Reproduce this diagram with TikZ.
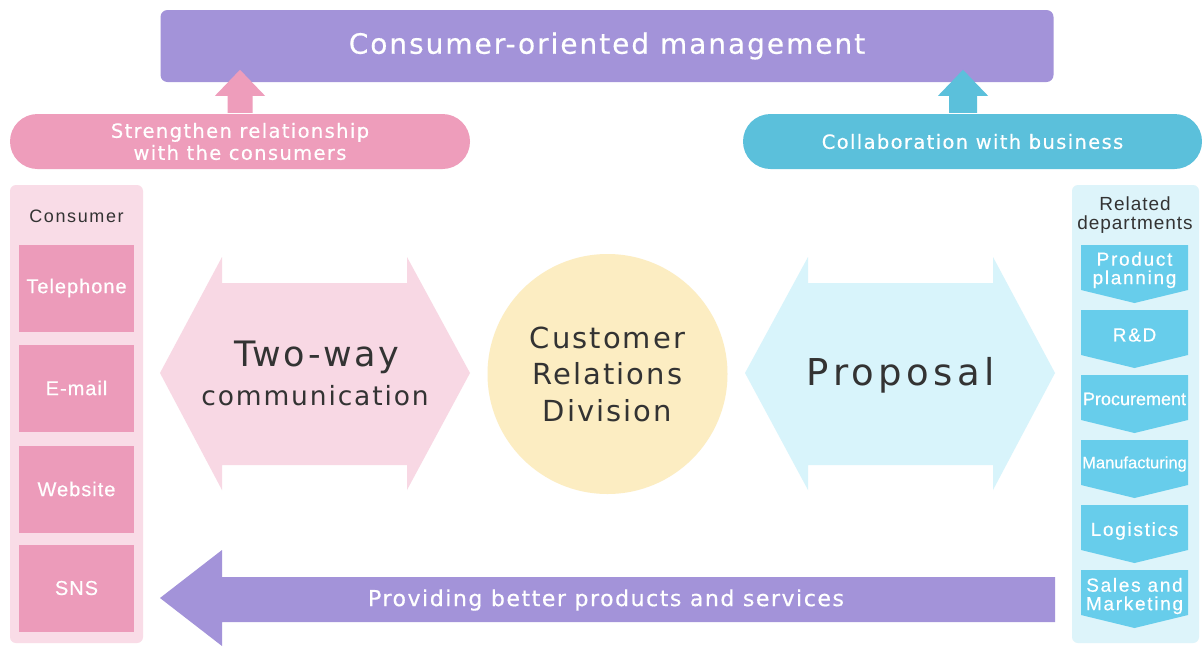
\documentclass[tikz,border=0pt]{standalone}
\usepackage{fontspec}
\setmainfont{DejaVu Sans}[LetterSpace=7]
\newfontfamily\dvb{DejaVu Sans}[LetterSpace=7,FakeBold=0.5]
\newfontfamily\dvwide{DejaVu Sans}[LetterSpace=12]
\newfontfamily\ls{Liberation Sans}[LetterSpace=5]
\newfontfamily\lsb{Liberation Sans}[LetterSpace=5,FakeBold=0.5]
\newfontfamily\lswb{Liberation Sans}[LetterSpace=9,FakeBold=0.5]
\newfontfamily\lsw{Liberation Sans}[LetterSpace=9]
\newfontfamily\lstb{Liberation Sans}[LetterSpace=0,FakeBold=0.5]
\usetikzlibrary{shapes.misc}
\definecolor{lav}{HTML}{A393D9}
\definecolor{pinkm}{HTML}{EE9DBB}
\definecolor{pinkbox}{HTML}{EC9BBA}
\definecolor{pinkl}{HTML}{F9DCE7}
\definecolor{pinkarrow}{HTML}{F8D8E4}
\definecolor{bluem}{HTML}{5BC0DB}
\definecolor{bluech}{HTML}{67CDEB}
\definecolor{bluel}{HTML}{DDF4FA}
\definecolor{bluearrow}{HTML}{D8F4FB}
\definecolor{cream}{HTML}{FCEDC2}
\definecolor{ink}{HTML}{333333}
\begin{document}
\begin{tikzpicture}[x=1pt,y=-1pt,
  plain/.style={inner sep=0pt, align=center},
  chanbox/.style={plain, fill=pinkbox, minimum width=115pt, minimum height=87pt, text=white, font=\lsb\fontsize{20}{22}\selectfont},
  chevlabel/.style={plain, text=white, font=\lswb\fontsize{19}{18.5}\selectfont},
  chev/.style={fill=bluech}
]
\useasboundingbox (0,0) rectangle (1202,646);
\fill[white] (0,0) rectangle (1202,646);

% top banner
\node[plain, fill=lav, rounded corners=7pt, minimum width=893pt, minimum height=72pt,
      text=white, font=\dvb\fontsize{28}{30}\selectfont] (mgmt) at (607,46) {Consumer-oriented management};

% pills
\node[rounded rectangle, fill=pinkm, minimum width=460pt, minimum height=55pt, inner sep=0pt,
      align=center, text=white, font=\dvb\fontsize{19.5}{22}\selectfont] (strength) at (240,141.5)
      {Strengthen relationship\\with the consumers};
\node[rounded rectangle, fill=bluem, minimum width=459pt, minimum height=55pt, inner sep=0pt,
      align=center, text=white, font=\dvb\fontsize{19.5}{22}\selectfont] (collab) at (972.5,141.5)
      {Collaboration with business};

% up arrows
\fill[pinkm] ([yshift=1pt]strength.north) ++(-12.5,0) -- ++(0,-17) -- ++(-12.5,0) -- ++(25,-26)
   -- ++(25,26) -- ++(-12.5,0) -- ++(0,17) -- cycle;
\fill[bluem] ([xshift=-9.5pt,yshift=1pt]collab.north) ++(-14,0) -- ++(0,-17) -- ++(-11,0) -- ++(25,-26)
   -- ++(25,26) -- ++(-11,0) -- ++(0,17) -- cycle;

% consumer panel
\node[plain, fill=pinkl, rounded corners=6pt, minimum width=133pt, minimum height=458pt] (conspanel) at (76.5,414) {};
\node[plain, text=ink, font=\lsw\fontsize{18}{18}\selectfont] (conslabel) at (76.5,216) {Consumer};
\node[chanbox] (tel) at (76.5,288) {Telephone};
\node[chanbox] (mail) at (76.5,388) {E-mail};
\node[chanbox] (web) at (76.5,489) {Website};
\node[chanbox] (sns) at (76.5,588) {SNS};

% two-way arrow
\fill[pinkarrow] (160,373) -- (222,257) -- (222,283) -- (407,283) -- (407,257) -- (470,373)
   -- (407,490) -- (407,465) -- (222,465) -- (222,490) -- cycle;
\node[plain, text=ink, font=\fontsize{35}{38}\selectfont] (tw1) at (317,357) {Two-way};
\node[plain, text=ink, font=\fontsize{26.5}{30}\selectfont] (tw2) at (315,396) {communication};

% centre circle
\node[circle, fill=cream, minimum size=240pt, inner sep=0pt, align=center, text=ink,
      font=\fontsize{29}{36.5}\selectfont] (crd) at (607.5,374) {Customer\\Relations\\Division};

% proposal arrow
\fill[bluearrow] (745,373) -- (808,257) -- (808,283) -- (993,283) -- (993,257) -- (1055,373)
   -- (993,490) -- (993,465) -- (808,465) -- (808,490) -- cycle;
\node[plain, text=ink, font=\dvwide\fontsize{37}{42}\selectfont] (prop) at (901,375) {Proposal};

% related departments panel
\node[plain, fill=bluel, rounded corners=6pt, minimum width=127pt, minimum height=458pt] (relpanel) at (1135.5,414) {};
\node[plain, text=ink, font=\ls\fontsize{19}{19}\selectfont] (rellabel) at (1135,215.5) {Related\\departments};

\foreach \t in {245,310,375,440,505,570}{
  \fill[chev] (1081,\t) -- (1188,\t) -- (1188,\t+45) -- (1134.5,\t+58) -- (1081,\t+45) -- cycle;
}
\node[chevlabel] (d1) at (1134.5,270) {Product\\planning};
\node[chevlabel] (d2) at (1134.5,335) {R\&D};
\node[chevlabel, font=\lstb\fontsize{18}{18}\selectfont] (d3) at (1134.5,399) {Procurement};
\node[chevlabel, font=\lstb\fontsize{16.5}{18}\selectfont] (d4) at (1134.5,464) {Manufacturing};
\node[chevlabel] (d5) at (1134.5,531) {Logistics};
\node[chevlabel] (d6) at (1134.5,596) {Sales and\\Marketing};

% bottom arrow
\fill[lav] (160,598) -- (222,550) -- (222,577) -- (1055,577) -- (1055,622) -- (222,622) -- (222,646) -- cycle;
\node[plain, text=white, font=\dvb\fontsize{22}{24}\selectfont] (provide) at (606,600) {Providing better products and services};
\end{tikzpicture}
\end{document}
